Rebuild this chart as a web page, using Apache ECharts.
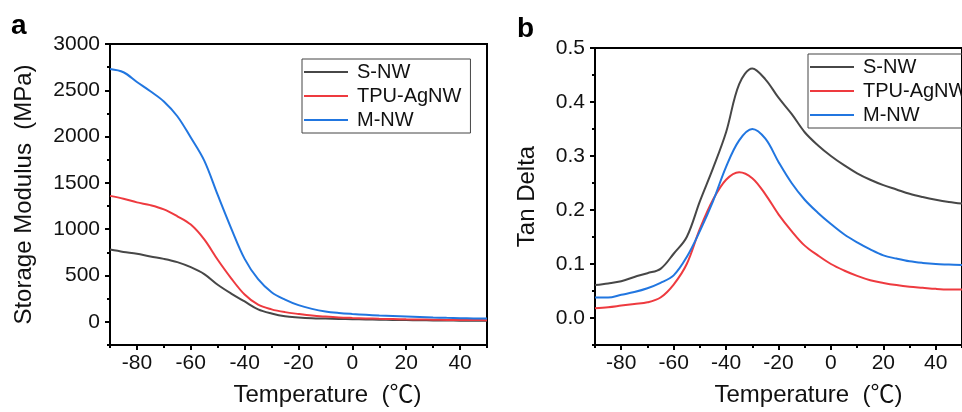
<!DOCTYPE html>
<html>
<head>
<meta charset="utf-8">
<script src="https://cdn.jsdelivr.net/npm/echarts@6/dist/echarts.min.js"></script>
<style>
  html, body { margin: 0; padding: 0; background: #fff; }
  #main { width: 962px; height: 412px; }
</style>
</head>
<body>
<div id="main"></div>
<script>
(function() {
	var temps = [-90, -85, -80, -75, -70, -65, -60, -55, -50, -45, -40, -35, -30, -25, -20,
		-15, -10, -5, 0, 5, 10, 15, 20, 25, 30, 35, 40, 45, 50];

	// panel a, storage modulus (MPa)
	var modS = [780, 755, 735, 705, 680, 645, 590, 515, 400, 305, 220, 135, 90, 60, 48,
		40, 36, 32, 29, 26, 23, 21, 19, 17, 15, 14, 13, 12, 11];
	var modTPU = [1360, 1330, 1290, 1260, 1215, 1140, 1050, 890, 670, 470, 295, 185, 135, 105, 85,
		68, 57, 48, 42, 37, 33, 30, 27, 25, 23, 21, 20, 19, 18];
	var modM = [2730, 2695, 2590, 2490, 2380, 2220, 1990, 1740, 1370, 1010, 680, 460, 320, 240, 180,
		140, 112, 96, 85, 76, 68, 62, 57, 52, 47, 43, 40, 37, 35];

	// panel b, tan delta
	var tanS = [0.061, 0.064, 0.068, 0.076, 0.083, 0.091, 0.119, 0.150, 0.216, 0.277, 0.344, 0.433, 0.462, 0.442, 0.408,
		0.378, 0.344, 0.320, 0.300, 0.283, 0.268, 0.256, 0.246, 0.238, 0.230, 0.224, 0.219, 0.215, 0.212];
	var tanTPU = [0.018, 0.020, 0.023, 0.026, 0.029, 0.038, 0.062, 0.100, 0.165, 0.219, 0.256, 0.270, 0.259, 0.229, 0.192,
		0.161, 0.134, 0.116, 0.100, 0.088, 0.078, 0.070, 0.065, 0.061, 0.058, 0.056, 0.054, 0.053, 0.053];
	var tanM = [0.038, 0.038, 0.043, 0.048, 0.055, 0.065, 0.079, 0.113, 0.161, 0.216, 0.280, 0.329, 0.350, 0.332, 0.289,
		0.250, 0.219, 0.195, 0.174, 0.155, 0.140, 0.127, 0.116, 0.110, 0.105, 0.102, 0.100, 0.099, 0.098];

	var names = ["S-NW", "TPU-AgNW", "M-NW"];
	var colors = ["#474747", "#ee3a3f", "#2176e0"];

	var xMajor = [-80, -60, -40, -20, 0, 20, 40];
	var xMinor = [-90, -70, -50, -30, -10, 10, 30, 50];
	var yMajorA = [0, 500, 1000, 1500, 2000, 2500, 3000];
	var yMinorA = [-250, 250, 750, 1250, 1750, 2250, 2750];
	var yMajorB = [0, 0.1, 0.2, 0.3, 0.4, 0.5];
	var yMinorB = [-0.05, 0.05, 0.15, 0.25, 0.35, 0.45];

	function pairs(ys) {
		return temps.map(function(t, i) { return [t, ys[i]]; });
	}

	var font = "Liberation Sans, Arial, Noto Sans CJK SC, sans-serif";
	var txt = "#111";

	function mainX(grid, padLeft) {
		return {
			type: "value", gridIndex: grid, min: -90, max: 50, position: "bottom",
			name: "Temperature  (℃)", nameLocation: "middle", nameGap: 38,
			nameTextStyle: { fontSize: 24, color: txt, fontFamily: font, padding: [0, 0, 0, padLeft] },
			axisLine: { onZero: false, lineStyle: { color: "#000", width: 2 } },
			axisTick: { customValues: xMajor, length: 5, lineStyle: { color: "#000", width: 2 } },
			axisLabel: { customValues: xMajor, fontSize: 21, color: txt, fontFamily: font, margin: 8 },
			splitLine: { show: false }
		};
	}
	function minorX(grid) {
		return {
			type: "value", gridIndex: grid, min: -90, max: 50, position: "bottom",
			axisLine: { show: false, onZero: false },
			axisTick: { customValues: xMinor, length: 3, lineStyle: { color: "#000", width: 2 } },
			axisLabel: { show: false }, splitLine: { show: false }
		};
	}
	function minorY(grid, min, max, vals) {
		return {
			type: "value", gridIndex: grid, min: min, max: max, position: "left",
			axisLine: { show: false, onZero: false },
			axisTick: { customValues: vals, length: 3, lineStyle: { color: "#000", width: 2 } },
			axisLabel: { show: false }, splitLine: { show: false }
		};
	}
	function legend(left, top, padRight) {
		return {
			data: names, orient: "vertical", left: left, top: top,
			icon: "rect", itemWidth: 44, itemHeight: 2, itemGap: 4,
			borderColor: "#444", borderWidth: 1, padding: [3, padRight, 3, 2],
			textStyle: { fontSize: 20, color: txt, fontFamily: font, lineHeight: 20, padding: [0, 0, 0, 4] }
		};
	}

	var myChart = echarts.init(document.getElementById("main"));

	var series = [];
	[modS, modTPU, modM].forEach(function(d, i) {
		series.push({
			name: names[i], type: "line", xAxisIndex: 0, yAxisIndex: 0,
			data: pairs(d), showSymbol: false, smooth: 0.35,
			lineStyle: { color: colors[i], width: 2 }, itemStyle: { color: colors[i] }
		});
	});
	[tanS, tanTPU, tanM].forEach(function(d, i) {
		series.push({
			name: names[i], type: "line", xAxisIndex: 2, yAxisIndex: 2,
			data: pairs(d), showSymbol: false, smooth: 0.35,
			lineStyle: { color: colors[i], width: 2 }, itemStyle: { color: colors[i] }
		});
	});

	var option = {
		backgroundColor: "#fff",
		animation: false,
		grid: [
			{ left: 110, top: 44, width: 377, height: 301, show: true, borderColor: "#000", borderWidth: 2 },
			{ left: 595, top: 48, width: 386, height: 301, show: true, borderColor: "#000", borderWidth: 2 }
		],
		legend: [legend(302, 59, 9), legend(808, 54, 20)],
		xAxis: [mainX(0, 58), minorX(0), mainX(1, 60), minorX(1)],
		yAxis: [
			{
				type: "value", gridIndex: 0, min: -250, max: 3000, position: "left",
				name: "Storage Modulus  (MPa)", nameLocation: "middle", nameGap: 74,
				nameTextStyle: { fontSize: 24, color: txt, fontFamily: font },
				axisLine: { onZero: false, lineStyle: { color: "#000", width: 2 } },
				axisTick: { customValues: yMajorA, length: 5, lineStyle: { color: "#000", width: 2 } },
				axisLabel: {
					customValues: yMajorA, fontSize: 21, color: txt, fontFamily: font, margin: 10,
					formatter: function(v) { return String(v); }
				},
				splitLine: { show: false }
			},
			minorY(0, -250, 3000, yMinorA),
			{
				type: "value", gridIndex: 1, min: -0.05, max: 0.5, position: "left",
				name: "Tan Delta", nameLocation: "middle", nameGap: 56,
				nameTextStyle: { fontSize: 24, color: txt, fontFamily: font },
				axisLine: { onZero: false, lineStyle: { color: "#000", width: 2 } },
				axisTick: { customValues: yMajorB, length: 5, lineStyle: { color: "#000", width: 2 } },
				axisLabel: {
					customValues: yMajorB, fontSize: 21, color: txt, fontFamily: font, margin: 10,
					formatter: function(v) { return v.toFixed(1); }
				},
				splitLine: { show: false }
			},
			minorY(1, -0.05, 0.5, yMinorB)
		],
		graphic: [
			{ type: "text", left: 11, top: 12, style: { text: "a", fontSize: 28, fontWeight: "bold", fill: "#000", fontFamily: font } },
			{ type: "text", left: 517, top: 15, style: { text: "b", fontSize: 28, fontWeight: "bold", fill: "#000", fontFamily: font } }
		],
		series: series
	};

	myChart.setOption(option);

	window.addEventListener("resize", function() {
		myChart.resize();
	});
})();
</script>
</body>
</html>
